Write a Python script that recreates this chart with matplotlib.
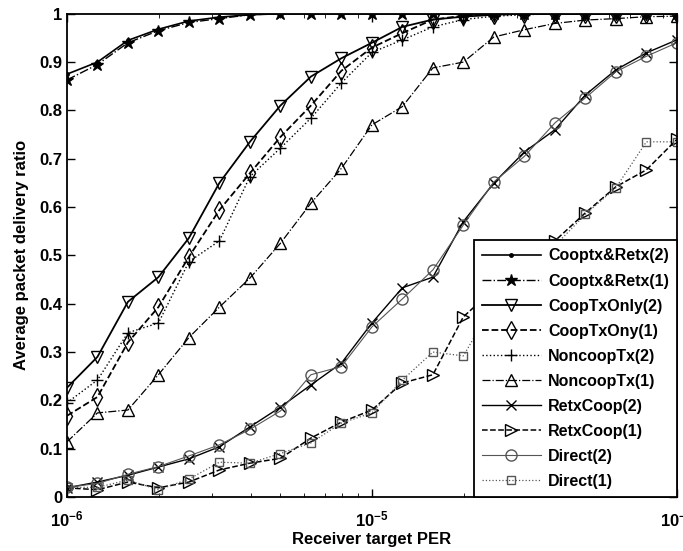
import matplotlib
matplotlib.use('Agg')
import matplotlib.pyplot as plt

plt.rcParams['font.family'] = 'Liberation Sans'
plt.rcParams['font.weight'] = 'bold'
plt.rcParams['mathtext.fontset'] = 'custom'
plt.rcParams['mathtext.bf'] = 'Liberation Sans:bold'
plt.rcParams['mathtext.rm'] = 'Liberation Sans:bold'

per = [1.0e-6, 1.259e-6, 1.585e-6, 1.995e-6, 2.512e-6, 3.162e-6, 3.981e-6,
       5.012e-6, 6.310e-6, 7.943e-6, 1.0e-5, 1.259e-5, 1.585e-5, 1.995e-5,
       2.512e-5, 3.162e-5, 3.981e-5, 5.012e-5, 6.310e-5, 7.943e-5, 1.0e-4]

cooptx_retx_2 = [0.875, 0.900, 0.945, 0.968, 0.985, 0.993, 0.998, 1, 1, 1, 1,
                 1, 1, 1, 1, 1, 1, 1, 1, 1, 1]
cooptx_retx_1 = [0.863, 0.895, 0.940, 0.965, 0.982, 0.990, 0.998, 1, 1, 1, 1,
                 1, 1, 1, 1, 1, 1, 1, 1, 1, 1]
cooptx_only_2 = [0.226, 0.290, 0.404, 0.455, 0.536, 0.650, 0.735, 0.810, 0.870,
                 0.908, 0.940, 0.973, 0.988, 0.994, 0.998, 1, 1, 1, 1, 1, 1]
cooptx_only_1 = [0.168, 0.207, 0.320, 0.393, 0.497, 0.594, 0.670, 0.745, 0.810,
                 0.882, 0.930, 0.960, 0.988, 0.996, 0.998, 1, 1, 1, 1, 1, 1]
noncoop_2 = [0.195, 0.242, 0.340, 0.360, 0.487, 0.530, 0.663, 0.722, 0.784,
             0.857, 0.920, 0.946, 0.973, 0.988, 0.995, 0.998, 1, 1, 1, 1, 1]
noncoop_1 = [0.114, 0.174, 0.180, 0.253, 0.330, 0.393, 0.453, 0.525, 0.608,
             0.680, 0.770, 0.808, 0.888, 0.900, 0.952, 0.967, 0.980, 0.987,
             0.990, 0.994, 0.995]
retx_coop_2 = [0.019, 0.031, 0.045, 0.062, 0.079, 0.104, 0.145, 0.186, 0.232,
               0.277, 0.360, 0.433, 0.455, 0.570, 0.650, 0.714, 0.760, 0.832,
               0.884, 0.919, 0.946]
retx_coop_1 = [0.019, 0.015, 0.031, 0.019, 0.031, 0.056, 0.070, 0.080, 0.122,
               0.155, 0.180, 0.236, 0.253, 0.373, 0.430, 0.480, 0.530, 0.588,
               0.642, 0.677, 0.740]
direct_2 = [0.020, 0.028, 0.047, 0.063, 0.085, 0.108, 0.140, 0.178, 0.253,
            0.270, 0.352, 0.410, 0.470, 0.563, 0.652, 0.705, 0.774, 0.826,
            0.880, 0.912, 0.940]
direct_1 = [0.020, 0.020, 0.035, 0.015, 0.037, 0.072, 0.070, 0.090, 0.112,
            0.153, 0.174, 0.242, 0.300, 0.292, 0.400, 0.460, 0.520, 0.585,
            0.640, 0.735, 0.735]

labels = ['Cooptx&Retx(2)', 'Cooptx&Retx(1)', 'CoopTxOnly(2)', 'CoopTxOny(1)',
          'NoncoopTx(2)', 'NoncoopTx(1)', 'RetxCoop(2)', 'RetxCoop(1)',
          'Direct(2)', 'Direct(1)']
ytick_labels = ['0', '0.1', '0.2', '0.3', '0.4', '0.5', '0.6', '0.7', '0.8', '0.9', '1']
xtick_labels = [r'$\mathbf{10^{-6}}$', r'$\mathbf{10^{-5}}$', r'$\mathbf{10^{-4}}$']

fig = plt.figure(figsize=(6.83, 5.51), dpi=100)
ax = fig.add_axes([0.098, 0.098, 0.893, 0.877])

ax.plot(per, cooptx_retx_2, '-', marker='.', color='k', lw=1.2, ms=5, label=labels[0])
ax.plot(per, cooptx_retx_1, '-.', marker='*', color='k', lw=1.0, ms=9, label=labels[1])
ax.plot(per, cooptx_only_2, '-', marker='v', color='k', lw=1.3, ms=9, mfc='none', label=labels[2])
ax.plot(per, cooptx_only_1, '--', marker='d', color='k', lw=1.3, ms=9, mfc='none', label=labels[3])
ax.plot(per, noncoop_2, ':', marker='+', color='k', lw=1.0, ms=8, label=labels[4])
ax.plot(per, noncoop_1, '-.', marker='^', color='k', lw=0.9, ms=8, mfc='none', label=labels[5])
ax.plot(per, retx_coop_2, '-', marker='x', color='k', lw=1.0, ms=7, label=labels[6])
ax.plot(per, retx_coop_1, '--', marker='>', color='k', lw=1.1, ms=8, mfc='none', label=labels[7])
ax.plot(per, direct_2, '-', marker='o', color='#555555', lw=0.8, ms=8, mfc='none', label=labels[8])
ax.plot(per, direct_1, ':', marker='s', color='#555555', lw=0.9, ms=6, mfc='none', label=labels[9])

ax.set_xscale('log')
ax.set_xlim(1e-6, 1e-4)
ax.set_ylim(0, 1)
ax.set_xticks([1e-6, 1e-5, 1e-4])
ax.set_xticklabels(xtick_labels)
ax.set_yticks([0, 0.1, 0.2, 0.3, 0.4, 0.5, 0.6, 0.7, 0.8, 0.9, 1])
ax.set_yticklabels(ytick_labels)
ax.tick_params(which='both', direction='in', top=True, right=True, labelsize=12)
ax.tick_params(which='major', length=6, width=1)
ax.tick_params(which='minor', length=3)
ax.tick_params(axis='x', which='major', pad=9)
for s in ax.spines.values():
    s.set_linewidth(1.3)

ax.set_xlabel('Receiver target PER', fontsize=12, fontweight='bold', labelpad=2)
ax.set_ylabel('Average packet delivery ratio', fontsize=12, fontweight='bold', labelpad=7)

leg = ax.legend(loc='lower right', fontsize=11.5, frameon=True, fancybox=False,
                edgecolor='k', handlelength=3.7, borderaxespad=0, labelspacing=0.63,
                handletextpad=0.45, borderpad=0.5)
leg.get_frame().set_linewidth(1.3)
leg.get_frame().set_alpha(1)

fig.savefig('out.png', dpi=100)
